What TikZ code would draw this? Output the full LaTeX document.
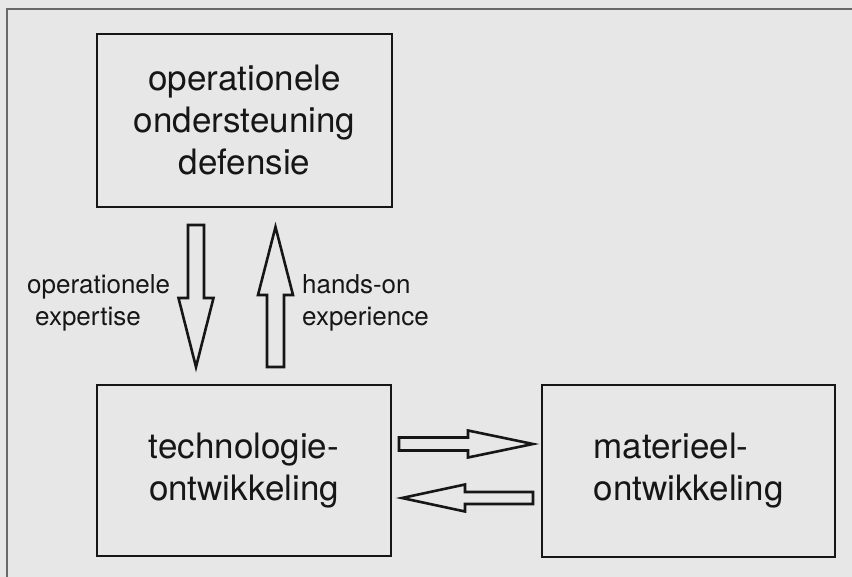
\documentclass[tikz,border=0pt]{standalone}
\usepackage{fontspec}
\setmainfont{TeX Gyre Heros}
\usetikzlibrary{calc}

\definecolor{paper}{RGB}{231,231,231}
\definecolor{ink}{RGB}{22,22,22}
\definecolor{rule}{RGB}{105,105,105}

\tikzset{
  block/.style={draw=ink, line width=2.2pt, inner sep=0pt, align=center,
    text=ink, font=\fontsize{35}{42}\selectfont},
  flowlabel/.style={inner sep=0pt, align=left, text=ink,
    font=\fontsize{26}{32}\selectfont},
  arrowline/.style={draw=ink, line width=2.6pt, line join=miter}
}

% hollow block arrow: tail, tip, shaft half-width, head half-width, head length
\newcommand\hollowarrow[5]{%
  \coordinate (hb) at ($(#2)!#5!(#1)$);
  \draw[arrowline]
    ($(#1)!#3!90:(#2)$) -- ($(hb)!#3!-90:(#1)$) -- ($(hb)!#4!-90:(#1)$)
    -- (#2) -- ($(hb)!#4!90:(#1)$) -- ($(hb)!#3!90:(#1)$)
    -- ($(#1)!#3!-90:(#2)$) -- cycle;
}

\begin{document}
\begin{tikzpicture}[x=1pt,y=-1pt]
  \useasboundingbox (0,0) rectangle (852,577);
  \fill[paper] (0,0) rectangle (852,577);

  % page frame
  \draw[rule, line width=1.4pt] (7,577) -- (7,9) -- (852,9);

  % the three blocks
  \node[block, minimum width=295pt, minimum height=173pt] (ops) at (244.5,120.5)
    {operationele\\ondersteuning\\defensie};
  \node[block, minimum width=294pt, minimum height=171pt] (tech) at (244,470.5)
    {technologie-\\ontwikkeling};
  \node[block, minimum width=293pt, minimum height=172pt, align=left] (mat) at (688.5,471)
    {materieel-\\ontwikkeling};

  % arrow end points
  \coordinate (downA) at (196,225);
  \coordinate (downB) at (196,367);
  \coordinate (upA)   at (275.5,367);
  \coordinate (upB)   at (275.5,227);
  \coordinate (rightA) at (399,444);
  \coordinate (rightB) at (533,444);
  \coordinate (leftA)  at (533,498);
  \coordinate (leftB)  at (402,498);

  \hollowarrow{downA}{downB}{8pt}{17.5pt}{69pt}
  \hollowarrow{upA}{upB}{8.5pt}{17.5pt}{68pt}
  \hollowarrow{rightA}{rightB}{6.5pt}{13.5pt}{65pt}
  \hollowarrow{leftA}{leftB}{6pt}{13.5pt}{63pt}

  % arrow labels
  \node[flowlabel, anchor=west] (opexp) at (27,303)
    {operationele\\\hspace*{8pt}expertise};
  \node[flowlabel, anchor=west] (hands) at (302,303)
    {hands-on\\experience};
\end{tikzpicture}
\end{document}
